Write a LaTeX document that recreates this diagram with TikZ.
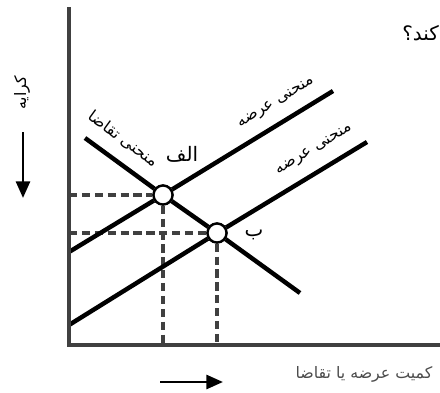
\documentclass[tikz,border=0pt]{standalone}
\usepackage{fontspec}
\newfontfamily\arabicfont[Script=Arabic]{DejaVu Sans}
\TeXXeTstate=1
\usetikzlibrary{arrows.meta}
\tikzset{
  axisline/.style={line width=3.6pt, draw=black!75},
  curve/.style={line width=3.8pt, draw=black},
  guide/.style={line width=2.8pt, draw=black!75, dash pattern=on 7pt off 4pt},
  eqpt/.style={circle, draw=black, line width=2pt, fill=white, minimum size=0.57cm, inner sep=0pt},
  curvelbl/.style={font=\arabicfont\fontsize{13.5}{15}\selectfont, inner sep=0pt},
  ptlbl/.style={font=\arabicfont\fontsize{17}{19}\selectfont, inner sep=0pt},
  dirarrow/.style={line width=2.4pt, -{Triangle[length=5mm, width=4.2mm]}},
}

\begin{document}
\begin{tikzpicture}[x=0.03cm, y=-0.03cm]
  \useasboundingbox (0,0) rectangle (440,393);
  % axes
  \coordinate (o) at (69,345);
  \coordinate (ytop) at (69,7);
  \coordinate (xend) at (442,345);
  % curve ends
  \coordinate (s1a) at (69,252);
  \coordinate (s1b) at (333,91);
  \coordinate (s2a) at (69,325);
  \coordinate (s2b) at (367,142);
  \coordinate (da) at (85,138);
  \coordinate (db) at (300,293);
  % equilibrium points
  \node[eqpt] (A) at (163,195) {};
  \node[eqpt] (B) at (217,233) {};
  \draw[guide] (o |- A) -- (A.west);
  \draw[guide] (A.south) -- (A |- o);
  \draw[guide] (o |- B) -- (B.west);
  \draw[guide] (B.south) -- (B |- o);
  \draw[curve] (s1a) -- (A) -- (s1b);
  \draw[curve] (s2a) -- (B) -- (s2b);
  \draw[curve] (da) -- (A) -- (B) -- (db);
  \node[eqpt] at (A) {};
  \node[eqpt] at (B) {};
  \draw[axisline] (ytop) -- (o) -- (xend);
  % labels
  \node[curvelbl, rotate=-36] (dlbl) at (123,139) {\beginR منحنی تقاضا\endR};
  \node[curvelbl, rotate=31] (s1lbl) at (276,103) {\beginR منحنی عرضه\endR};
  \node[curvelbl, rotate=31] (s2lbl) at (314,150) {\beginR منحنی عرضه\endR};
  \node[ptlbl] (Albl) at (182,154) {\beginR الف\endR};
  \node[ptlbl] (Blbl) at (254,235) {\beginR ب\endR};
  \node[curvelbl, rotate=90] (ylbl) at (22,93) {\beginR کرایه\endR};
  \node[font=\arabicfont\fontsize{13.5}{15}\selectfont, text=black!70, inner sep=0pt] (xlbl) at (364,374) {\beginR کمیت عرضه یا تقاضا\endR};
  \node[font=\arabicfont\fontsize{17}{19}\selectfont, inner sep=0pt, anchor=east] (qtxt) at (439,33) {\beginR کند؟\endR};
  % direction arrows
  \coordinate (yarr1) at (23,132);
  \coordinate (yarr2) at (23,198);
  \coordinate (xarr1) at (160,382);
  \coordinate (xarr2) at (223,382);
  \draw[dirarrow] (yarr1) -- (yarr2);
  \draw[dirarrow] (xarr1) -- (xarr2);
\end{tikzpicture}
\end{document}
